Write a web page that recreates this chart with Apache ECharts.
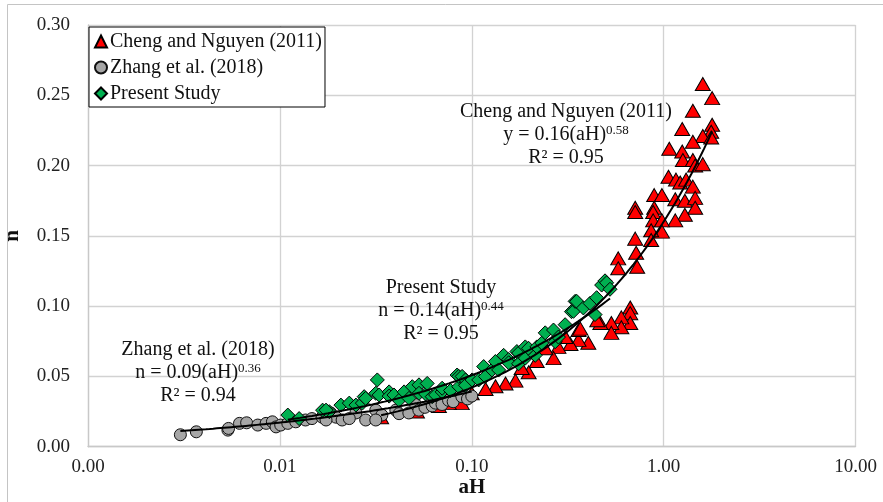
<!DOCTYPE html>
<html>
<head>
<meta charset="utf-8">
<script src="https://cdn.jsdelivr.net/npm/echarts@6/dist/echarts.min.js"></script>
<style>
  html, body { margin: 0; padding: 0; background: #ffffff; }
  #chart { width: 883px; height: 502px; }
</style>
</head>
<body>
<div id="chart"></div>
<script>
// Measured points: [aH, n]
const chengData = [
  [1.60,0.258],[1.79,0.248],[1.42,0.239],[1.79,0.229],[1.25,0.226],[1.77,0.224],[1.60,0.221],
  [1.77,0.220],[1.42,0.217],[1.07,0.212],[1.25,0.210],[1.26,0.204],[1.42,0.204],[1.46,0.200],
  [1.60,0.201],[1.06,0.192],[1.16,0.190],[1.22,0.188],[1.31,0.190],[1.42,0.185],[0.893,0.179],
  [0.98,0.179],[1.15,0.176],[1.29,0.175],[1.46,0.177],[1.46,0.170],[0.711,0.170],[0.893,0.170],
  [1.29,0.165],[1.15,0.161],[0.711,0.167],[0.882,0.167],[0.882,0.161],[0.98,0.161],[0.98,0.153],
  [0.861,0.154],[0.861,0.147],[0.711,0.148],[0.719,0.138],[0.728,0.128],[0.580,0.134],[0.580,0.127],
  [0.670,0.099],[0.670,0.095],[0.670,0.088],[0.602,0.092],[0.602,0.085],[0.534,0.088],[0.534,0.081],
  [0.468,0.088],[0.451,0.090],[0.405,0.074],[0.360,0.076],[0.360,0.083],[0.327,0.073],[0.283,0.071],
  [0.368,0.084],[0.308,0.078],[0.267,0.063],[0.218,0.061],[0.242,0.070],[0.198,0.053],[0.182,0.056],
  [0.169,0.047],[0.150,0.045],[0.133,0.043],[0.118,0.041],[0.100,0.038],[0.0855,0.035],[0.0887,0.031],
  [0.076,0.031],[0.0674,0.029],[0.0518,0.025],[0.0337,0.021]
];

const zhangData = [
  [0.00303,0.0085],[0.00367,0.0106],[0.00536,0.0118],[0.0054,0.013],[0.00616,0.0166],[0.00671,0.017],
  [0.00767,0.0154],[0.00848,0.0166],[0.00914,0.0177],[0.00955,0.0141],[0.0101,0.0154],[0.0110,0.0166],
  [0.0121,0.0177],[0.0136,0.019],[0.0147,0.020],[0.0166,0.021],[0.0184,0.024],[0.0196,0.021],
  [0.0211,0.019],[0.0249,0.024],[0.0174,0.019],[0.0230,0.020],[0.0280,0.019],[0.0316,0.026],
  [0.034,0.0225],[0.0316,0.019],[0.0402,0.026],[0.0418,0.0235],[0.047,0.024],[0.051,0.030],
  [0.053,0.026],[0.057,0.028],[0.0622,0.029],[0.0647,0.031],[0.070,0.030],[0.0757,0.033],
  [0.080,0.032],[0.0888,0.0356],[0.095,0.034],[0.100,0.036]
];

const presentData = [
  [0.0110,0.0225],[0.0126,0.020],[0.0167,0.026],[0.0181,0.0249],[0.0174,0.026],[0.0208,0.0296],
  [0.0230,0.031],[0.0249,0.0296],[0.0269,0.031],[0.0275,0.0356],[0.0280,0.0344],[0.0316,0.038],
  [0.0322,0.0475],[0.0329,0.0368],[0.0371,0.039],[0.0371,0.036],[0.0393,0.0368],[0.0418,0.033],
  [0.0444,0.039],[0.0471,0.0344],[0.0490,0.0427],[0.0531,0.044],[0.0531,0.038],[0.0575,0.0375],
  [0.0586,0.045],[0.0622,0.0356],[0.0648,0.0368],[0.0701,0.039],[0.0701,0.0416],[0.0775,0.040],
  [0.0839,0.051],[0.0856,0.0427],[0.0856,0.050],[0.0891,0.050],[0.0928,0.0475],[0.0928,0.0437],
  [0.1004,0.0475],[0.1087,0.0475],[0.1154,0.057],[0.1178,0.050],[0.1275,0.0546],[0.1328,0.0606],
  [0.1381,0.0546],[0.1466,0.065],[0.1557,0.062],[0.1557,0.0597],[0.1719,0.0677],[0.1754,0.0666],
  [0.1754,0.059],[0.1901,0.071],[0.1901,0.063],[0.1977,0.070],[0.2142,0.065],[0.2184,0.071],
  [0.2318,0.0737],[0.2415,0.081],[0.2667,0.083],[0.2722,0.0747],[0.2831,0.078],[0.3067,0.0868],
  [0.3308,0.0961],[0.3388,0.0963],[0.3458,0.1034],[0.3524,0.1034],[0.3818,0.0987],[0.4136,0.102],
  [0.4391,0.094],[0.4476,0.106],[0.4753,0.115],[0.4950,0.118],[0.5046,0.1166],[0.5255,0.112]
];

// Power-law fits n = a * (aH)^b
const chengFit = [0.16, 0.58];
const zhangFit = [0.09, 0.36];
const presentFit = [0.14, 0.44];

const seriesNames = ['Cheng and Nguyen (2011)', 'Zhang et al. (2018)', 'Present Study'];
const yTicks = [0, 0.05, 0.10, 0.15, 0.20, 0.25, 0.30];
const xRange = [0.001, 10];

const FONT = '"Liberation Serif", "Times New Roman", serif';

function fitCurve(coef, data) {
  const xs = data.map(d => d[0]);
  const lo = Math.log10(Math.min(...xs));
  const hi = Math.log10(Math.max(...xs));
  const pts = [];
  const n = 80;
  for (let i = 0; i <= n; i++) {
    const x = Math.pow(10, lo + (hi - lo) * i / n);
    pts.push([x, coef[0] * Math.pow(x, coef[1])]);
  }
  return pts;
}

function trendSeries(coef, data) {
  return {
    type: 'line',
    data: fitCurve(coef, data),
    showSymbol: false,
    symbol: 'none',
    smooth: false,
    lineStyle: { color: '#000', width: 2 },
    z: 5,
    silent: true,
    tooltip: { show: false }
  };
}

const chart = echarts.init(document.getElementById('chart'));

const rich = {
  t: { fontSize: 20, fontFamily: FONT, fill: '#111', lineHeight: 23 },
  s: { fontSize: 13, fontFamily: FONT, fill: '#111', lineHeight: 23, verticalAlign: 'top', padding: [1, 0, 0, 0] }
};

function note(x, y, lines) {
  return {
    type: 'text', x: x, y: y, z: 20, silent: true,
    style: { text: lines, align: 'center', verticalAlign: 'top', rich: rich }
  };
}

chart.setOption({
  animation: false,
  backgroundColor: '#ffffff',
  grid: { left: 88, right: 27.5, top: 25, bottom: 55.3, containLabel: false },
  legend: {
    orient: 'vertical',
    left: 89, top: 27,
    backgroundColor: '#ffffff',
    borderColor: '#000', borderWidth: 1,
    padding: [4, 3, 3, 5],
    itemWidth: 12, itemHeight: 12, itemGap: 5,
    data: seriesNames,
    textStyle: { fontFamily: FONT, fontSize: 20, color: '#111', lineHeight: 21, padding: [0, 0, 0, -2] },
    z: 30
  },
  xAxis: {
    type: 'log', logBase: 10, min: xRange[0], max: xRange[1],
    axisLine: { show: true, lineStyle: { color: '#c8c8c8', width: 1.3 } },
    axisTick: { show: false },
    splitLine: { show: true, lineStyle: { color: '#d2d2d2', width: 1.3 } },
    axisLabel: { fontFamily: FONT, fontSize: 19, color: '#222', margin: 11,
      formatter: v => Number(v).toFixed(2) }
  },
  yAxis: {
    type: 'value', min: yTicks[0], max: yTicks[yTicks.length - 1], interval: 0.05,
    axisLine: { show: true, lineStyle: { color: '#c8c8c8', width: 1.3 } },
    axisTick: { show: false },
    splitLine: { show: true, lineStyle: { color: '#d2d2d2', width: 1.3 } },
    axisLabel: { fontFamily: FONT, fontSize: 19, color: '#222', margin: 18,
      formatter: v => Number(v).toFixed(2) }
  },
  series: [
    {
      name: seriesNames[0], type: 'scatter', data: chengData,
      symbol: 'triangle', symbolSize: [15, 13],
      itemStyle: { color: '#ff0000', borderColor: '#000', borderWidth: 1, opacity: 1 },
      z: 2
    },
    {
      name: seriesNames[1], type: 'scatter', data: zhangData,
      symbol: 'circle', symbolSize: 12,
      itemStyle: { color: '#a6a6a6', borderColor: '#111', borderWidth: 1, opacity: 1 },
      z: 3
    },
    {
      name: seriesNames[2], type: 'scatter', data: presentData,
      symbol: 'diamond', symbolSize: 14,
      itemStyle: { color: '#00b050', borderColor: '#000', borderWidth: 1, opacity: 1 },
      z: 4
    },
    trendSeries(chengFit, chengData),
    trendSeries(zhangFit, zhangData),
    trendSeries(presentFit, presentData)
  ],
  graphic: [
    // chart area frame
    { type: 'rect', silent: true, z: -10,
      shape: { x: 7.5, y: 4.5, width: 1000, height: 1000 },
      style: { fill: null, stroke: '#c4c4c4', lineWidth: 1 } },
    // axis titles
    { type: 'text', x: 472, y: 488, z: 20, silent: true,
      style: { text: 'aH', font: 'bold 21px ' + FONT, fill: '#111', align: 'center', verticalAlign: 'middle' } },
    { type: 'text', x: 13, y: 236, rotation: Math.PI / 2, z: 20, silent: true,
      style: { text: 'n', font: 'bold 21px ' + FONT, fill: '#111', align: 'center', verticalAlign: 'middle' } },
    // fit annotations
    note(566, 100.5, '{t|Cheng and Nguyen (2011)}\n{t|y = 0.16(aH)}{s|0.58}\n{t|R² = 0.95}'),
    note(441, 276.5, '{t|Present Study}\n{t|n = 0.14(aH)}{s|0.44}\n{t|R² = 0.95}'),
    note(198, 338.5, '{t|Zhang et al. (2018)}\n{t|n = 0.09(aH)}{s|0.36}\n{t|R² = 0.94}')
  ]
});
</script>
</body>
</html>
